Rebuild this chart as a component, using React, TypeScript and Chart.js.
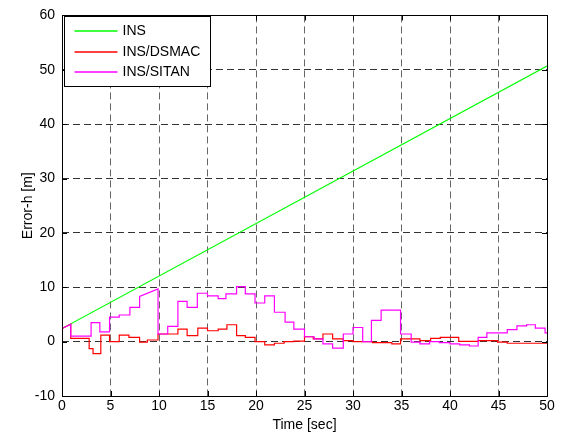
import React, { useEffect, useRef } from "react";
import { Chart, registerables } from "chart.js";

Chart.register(...registerables);

// ---- data ----
const seriesLabels = ["INS", "INS/DSMAC", "INS/SITAN"];
const seriesColors = ["#00ff00", "#ff0000", "#ff00ff"];

const xTickValues = [0, 5, 10, 15, 20, 25, 30, 35, 40, 45, 50];
const yTickValues = [-10, 0, 10, 20, 30, 40, 50, 60];

const insTime = [0, 50];
const insError = [2.4, 50.7];

const dsmacTime = [
  0, 0.9, 0.9, 2.8, 2.8, 3.2, 3.2, 4.0, 4.0, 4.9, 4.9, 5.9, 5.9, 6.9, 6.9, 8.0, 8.0, 8.8, 8.8, 9.9,
  9.9, 11.95, 11.95, 12.9, 12.9, 14.0, 14.0, 15.0, 15.0, 16.1, 16.1, 17.0, 17.0, 18.0, 18.0, 18.9,
  18.9, 19.9, 19.9, 20.9, 20.9, 21.9, 21.9, 22.9, 22.9, 23.9, 23.9, 25.0, 25.0, 25.9, 25.9, 26.9,
  26.9, 27.9, 27.9, 29.0, 29.0, 30.0, 30.0, 32.0, 32.0, 34.0, 34.0, 34.9, 34.9, 36.9, 36.9, 38.0,
  38.0, 39.0, 39.0, 40.9, 40.9, 42.9, 42.9, 44.9, 44.9, 45.9, 45.9, 50,
];
const dsmacError = [
  2.4, 3.2, 0.6, 0.6, -1.3, -1.3, -2.2, -2.2, 1.2, 1.2, 0.0, 0.0, 1.2, 1.2, 0.8, 0.8, -0.1, -0.1, 0.3, 0.3,
  1.4, 1.4, 2.3, 2.3, 1.1, 1.1, 2.5, 2.5, 2.0, 2.0, 2.3, 2.3, 3.1, 3.1, 1.1, 1.1,
  0.8, 0.8, 0.0, 0.0, -0.6, -0.6, -0.3, -0.3, 0.0, 0.0, 0.1, 0.1, 0.9, 0.9, 0.5, 0.5,
  1.4, 1.4, 0.5, 0.5, 0.2, 0.2, 0.0, 0.0, -0.2, -0.2, -0.4, -0.4, 0.5, 0.5, 0.2, 0.2,
  0.6, 0.6, 0.8, 0.8, 0.05, 0.05, 0.2, 0.2, -0.1, -0.1, -0.3, -0.3,
];

const sitanTime = [
  0, 0.9, 0.9, 3.0, 3.0, 3.9, 3.9, 4.9, 4.9, 5.9, 5.9, 7.0, 7.0, 8.0, 8.0, 9.9, 9.9, 10.9, 10.9,
  11.95, 11.95, 12.9, 12.9, 13.95, 13.95, 15.0, 15.0, 16.1, 16.1, 16.9, 16.9, 18.0, 18.0, 18.9,
  18.9, 19.9, 19.9, 20.9, 20.9, 21.9, 21.9, 23.0, 23.0, 23.9, 23.9, 25.0, 25.0, 26.0, 26.0, 26.9,
  26.9, 27.9, 27.9, 29.0, 29.0, 30.0, 30.0, 31.0, 31.0, 31.9, 31.9, 32.9, 32.9, 34.9, 34.9, 36.0,
  36.0, 36.9, 36.9, 37.9, 37.9, 38.9, 38.9, 40.0, 40.0, 41.0, 41.0, 42.0, 42.0, 42.9, 42.9, 43.8,
  43.8, 45.9, 45.9, 46.9, 46.9, 47.9, 47.9, 48.8, 48.8, 49.8, 49.8, 50,
];
const sitanError = [
  2.4, 3.2, 1.0, 1.0, 3.5, 3.5, 1.8, 1.8, 4.5, 4.5, 4.9, 4.9, 6.3, 6.3, 8.3, 9.7, 1.4, 1.4, 2.8,
  2.8, 7.4, 7.4, 6.3, 6.3, 8.9, 8.9, 8.4, 8.4, 7.9, 7.9, 8.8, 8.8, 10.1, 10.1,
  8.8, 8.8, 7.1, 7.1, 8.4, 8.4, 5.4, 5.4, 3.6, 3.6, 2.3, 2.3, 0.9, 0.9, 0.5, 0.5,
  -0.4, -0.4, -1.2, -1.2, 1.4, 1.4, 2.6, 2.6, 0.0, 0.0, 3.9, 3.9, 5.8, 5.8, 1.4, 1.4,
  -0.1, -0.1, -0.4, -0.4, 0.0, 0.0, -0.2, -0.2, -0.4, -0.4, -0.6, -0.6, -0.8, -0.8, 0.8, 0.8,
  1.6, 1.6, 2.2, 2.2, 2.9, 2.9, 3.1, 3.1, 2.5, 2.5, 1.6, 1.6,
];

const FONT = "'Liberation Sans', Arial, sans-serif";

const toPoints = (xs: number[], ys: number[]) => xs.map((x, i) => ({ x, y: ys[i] }));

const framePlugin = {
  id: "matlabFrame",
  afterDraw(chart: any) {
    const { ctx, chartArea, scales } = chart;
    const { left, top, right, bottom } = chartArea;
    const xs = scales.x;
    const ys = scales.y;
    ctx.save();
    ctx.setLineDash([]);
    ctx.strokeStyle = "#000";
    ctx.lineWidth = 1;
    const tl = 5;
    ctx.beginPath();
    xTickValues.forEach((v) => {
      const p = Math.round(xs.getPixelForValue(v)) + 0.5;
      ctx.moveTo(p, bottom);
      ctx.lineTo(p, bottom - tl);
      ctx.moveTo(p, top);
      ctx.lineTo(p, top + tl);
    });
    yTickValues.forEach((v) => {
      const p = Math.round(ys.getPixelForValue(v)) + 0.5;
      ctx.moveTo(left, p);
      ctx.lineTo(left + tl, p);
      ctx.moveTo(right, p);
      ctx.lineTo(right - tl, p);
    });
    ctx.stroke();
    const l = Math.round(left) + 0.5;
    const t = Math.round(top) + 0.5;
    const r = Math.round(right) + 0.5;
    const b = Math.round(bottom) + 0.5;
    ctx.strokeRect(l, t, r - l, b - t);

    // legend box
    const bx = l + 2;
    const by = t + 1;
    const bw = 146;
    const bh = 70;
    ctx.fillStyle = "#fff";
    ctx.fillRect(bx, by, bw, bh);
    ctx.strokeRect(bx, by, bw, bh);
    ctx.font = `14px ${FONT}`;
    ctx.textBaseline = "middle";
    ctx.textAlign = "left";
    const rows = [14.3, 35, 55.7];
    seriesLabels.forEach((lab, i) => {
      const yy = Math.round(by + rows[i]);
      ctx.strokeStyle = seriesColors[i];
      ctx.lineWidth = 1.5;
      ctx.beginPath();
      ctx.moveTo(bx + 10, yy);
      ctx.lineTo(bx + 53, yy);
      ctx.stroke();
      ctx.fillStyle = "#000";
      ctx.fillText(lab, bx + 58, yy + 0.5);
    });
    ctx.restore();
  },
};

export default function App() {
  const ref = useRef<HTMLCanvasElement | null>(null);

  useEffect(() => {
    document.body.style.margin = "0";
    const canvas = ref.current;
    if (!canvas) return;
    const chart = new Chart(canvas, {
      type: "line",
      data: {
        datasets: [
          {
            label: seriesLabels[2],
            data: toPoints(sitanTime, sitanError),
            borderColor: seriesColors[2],
            borderWidth: 1.2,
            pointRadius: 0,
            fill: false,
          },
          {
            label: seriesLabels[1],
            data: toPoints(dsmacTime, dsmacError),
            borderColor: seriesColors[1],
            borderWidth: 1.2,
            pointRadius: 0,
            fill: false,
          },
          {
            label: seriesLabels[0],
            data: toPoints(insTime, insError),
            borderColor: seriesColors[0],
            borderWidth: 1.2,
            pointRadius: 0,
            fill: false,
          },
        ],
      },
      options: {
        animation: false,
        responsive: false,
        parsing: false as any,
        layout: { padding: { top: 14, right: 14, left: 0, bottom: 0 } },
        plugins: {
          legend: { display: false },
          tooltip: { enabled: false },
        },
        scales: {
          x: {
            type: "linear",
            min: 0,
            max: 50,
            afterFit: (s: any) => {
              s.height = 41;
            },
            afterBuildTicks: (s: any) => {
              s.ticks = xTickValues.map((v) => ({ value: v }));
            },
            border: { display: false, dash: [7, 4] },
            grid: {
              color: "rgba(0,0,0,0.6)",
              lineWidth: 1,
              drawTicks: false,
            },
            ticks: {
              color: "#000",
              padding: 2,
              maxRotation: 0,
              font: { family: FONT, size: 14 },
            },
            title: {
              display: true,
              text: "Time [sec]",
              color: "#000",
              font: { family: FONT, size: 14 },
              padding: { top: 0, bottom: 3 },
            },
          },
          y: {
            type: "linear",
            min: -10,
            max: 60,
            afterFit: (s: any) => {
              s.width = 62;
            },
            afterBuildTicks: (s: any) => {
              s.ticks = yTickValues.map((v) => ({ value: v }));
            },
            border: { display: false, dash: [7, 4] },
            grid: {
              color: "rgba(0,0,0,0.8)",
              lineWidth: 1,
              drawTicks: false,
            },
            ticks: {
              color: "#000",
              padding: 7,
              font: { family: FONT, size: 14 },
            },
            title: {
              display: true,
              text: "Error-h [m]",
              color: "#000",
              font: { family: FONT, size: 14 },
              padding: { top: 20, bottom: 0 },
            },
          },
        },
      },
      plugins: [framePlugin],
    } as any);
    return () => chart.destroy();
  }, []);

  return (
    <div style={{ position: "absolute", left: 0, top: 0, width: 561, height: 437, background: "#fff" }}>
      <canvas ref={ref} width={561} height={437} style={{ width: 561, height: 437 }} />
    </div>
  );
}
